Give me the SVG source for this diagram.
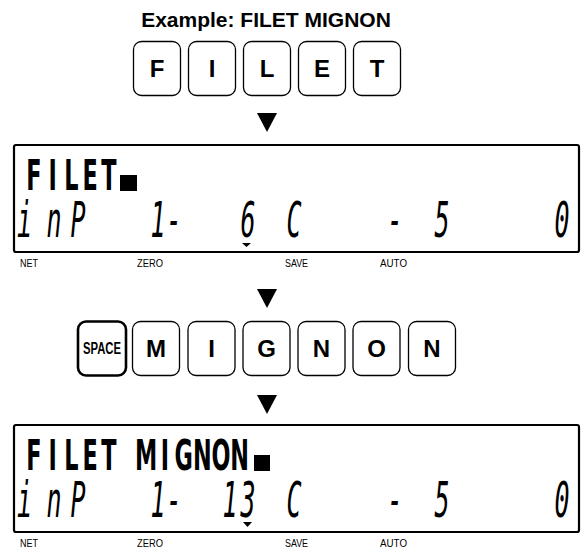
<svg xmlns="http://www.w3.org/2000/svg" width="582" height="552" viewBox="0 0 582 552">
<style>
.bg{fill:#fff}
.key{fill:#fff;stroke:#000;stroke-width:1.3}
.keyb{fill:#fff;stroke:#000;stroke-width:2.6}
.kl{font-family:"Liberation Sans",Arial,sans-serif;font-weight:bold;font-size:24px;text-anchor:middle;fill:#000}
.title{font-family:"Liberation Sans",Arial,sans-serif;font-weight:bold;font-size:21px;text-anchor:middle;fill:#000}
.lcd{fill:#fff;stroke:#000;stroke-width:2.2}
.l1{font-family:"DejaVu Sans",sans-serif;font-weight:bold;font-size:43px;fill:#000;text-anchor:middle}
.seg{font-family:"DejaVu Sans Mono",monospace;font-style:oblique;font-size:50px;fill:#000;text-anchor:middle}
.lab{font-family:"Liberation Sans",Arial,sans-serif;font-size:10px;fill:#000}
.arr{fill:#000}
</style>
<rect class="bg" x="0" y="0" width="582" height="552"/>
<text class="title" x="266" y="27">Example: FILET MIGNON</text>

<g id="keys1">
  <g id="key-F"><rect class="key" x="133.5" y="41.5" width="47" height="54" rx="8"/><text class="kl" x="157" y="77">F</text></g>
  <g id="key-I"><rect class="key" x="188.5" y="41.5" width="47" height="54" rx="8"/><text class="kl" x="212" y="77">I</text></g>
  <g id="key-L"><rect class="key" x="243.5" y="41.5" width="47" height="54" rx="8"/><text class="kl" x="267" y="77">L</text></g>
  <g id="key-E"><rect class="key" x="298.5" y="41.5" width="47" height="54" rx="8"/><text class="kl" x="322" y="77">E</text></g>
  <g id="key-T"><rect class="key" x="353.5" y="41.5" width="47" height="54" rx="8"/><text class="kl" x="377" y="77">T</text></g>
</g>

<g id="connectors">
  <polygon class="arr" points="257,113 277,113 267,132"/>
  <polygon class="arr" points="257,289 277,289 267,308"/>
  <polygon class="arr" points="257,395 277,395 267,414"/>
</g>

<g id="display1">
  <rect class="lcd" x="14" y="145" width="565" height="107" rx="2"/>
  <g transform="scale(0.52,1)">
    <text class="l1" y="190"><tspan x="65.4">F</tspan><tspan x="101.3">I</tspan><tspan x="137.3">L</tspan><tspan x="173.3">E</tspan><tspan x="209.2">T</tspan></text>
  </g>
  <rect x="120" y="175" width="17" height="16" fill="#000"/>
  <g transform="scale(0.5,1)">
    <text class="seg" y="237"><tspan x="49">i</tspan><tspan x="108">n</tspan><tspan x="156">P</tspan><tspan x="316">1</tspan><tspan x="348">-</tspan><tspan x="496">6</tspan><tspan x="588">C</tspan><tspan x="790">-</tspan><tspan x="884">5</tspan><tspan x="1124">0</tspan></text>
  </g>
  <polygon class="arr" points="242,243 251,243 246.5,247"/>
  <text class="lab" x="20" y="267" textLength="18" lengthAdjust="spacingAndGlyphs">NET</text>
  <text class="lab" x="137" y="267" textLength="26" lengthAdjust="spacingAndGlyphs">ZERO</text>
  <text class="lab" x="285" y="267" textLength="23" lengthAdjust="spacingAndGlyphs">SAVE</text>
  <text class="lab" x="380" y="267" textLength="27" lengthAdjust="spacingAndGlyphs">AUTO</text>
</g>

<g id="keys2">
  <g id="key-SPACE"><rect class="keyb" x="78" y="321.5" width="48" height="54" rx="8"/><text class="kl" x="102" y="354" style="font-size:16px" textLength="38" lengthAdjust="spacingAndGlyphs">SPACE</text></g>
  <g id="key-M"><rect class="key" x="132.5" y="321.5" width="47" height="54" rx="8"/><text class="kl" x="156" y="357">M</text></g>
  <g id="key-I2"><rect class="key" x="188" y="321.5" width="47" height="54" rx="8"/><text class="kl" x="211.5" y="357">I</text></g>
  <g id="key-G"><rect class="key" x="243" y="321.5" width="47" height="54" rx="8"/><text class="kl" x="266.5" y="357">G</text></g>
  <g id="key-N"><rect class="key" x="298" y="321.5" width="47" height="54" rx="8"/><text class="kl" x="321.5" y="357">N</text></g>
  <g id="key-O"><rect class="key" x="353" y="321.5" width="47" height="54" rx="8"/><text class="kl" x="376.5" y="357">O</text></g>
  <g id="key-N2"><rect class="key" x="408.5" y="321.5" width="47" height="54" rx="8"/><text class="kl" x="432" y="357">N</text></g>
</g>

<g id="display2">
  <rect class="lcd" x="14" y="425" width="565" height="107" rx="2"/>
  <g transform="scale(0.52,1)">
    <text class="l1" y="470"><tspan x="65.4">F</tspan><tspan x="101.3">I</tspan><tspan x="137.3">L</tspan><tspan x="173.3">E</tspan><tspan x="209.2">T</tspan><tspan x="281.2">M</tspan><tspan x="317.1">I</tspan><tspan x="353.1">G</tspan><tspan x="389">N</tspan><tspan x="425">O</tspan><tspan x="461">N</tspan></text>
  </g>
  <rect x="254" y="455" width="16" height="16" fill="#000"/>
  <g transform="scale(0.5,1)">
    <text class="seg" y="517"><tspan x="49">i</tspan><tspan x="108">n</tspan><tspan x="156">P</tspan><tspan x="316">1</tspan><tspan x="348">-</tspan><tspan x="460">1</tspan><tspan x="496">3</tspan><tspan x="588">C</tspan><tspan x="790">-</tspan><tspan x="884">5</tspan><tspan x="1124">0</tspan></text>
  </g>
  <polygon class="arr" points="243,522 252,522 247.5,527"/>
  <text class="lab" x="20" y="547" textLength="18" lengthAdjust="spacingAndGlyphs">NET</text>
  <text class="lab" x="137" y="547" textLength="26" lengthAdjust="spacingAndGlyphs">ZERO</text>
  <text class="lab" x="285" y="547" textLength="23" lengthAdjust="spacingAndGlyphs">SAVE</text>
  <text class="lab" x="380" y="547" textLength="27" lengthAdjust="spacingAndGlyphs">AUTO</text>
</g>
</svg>
